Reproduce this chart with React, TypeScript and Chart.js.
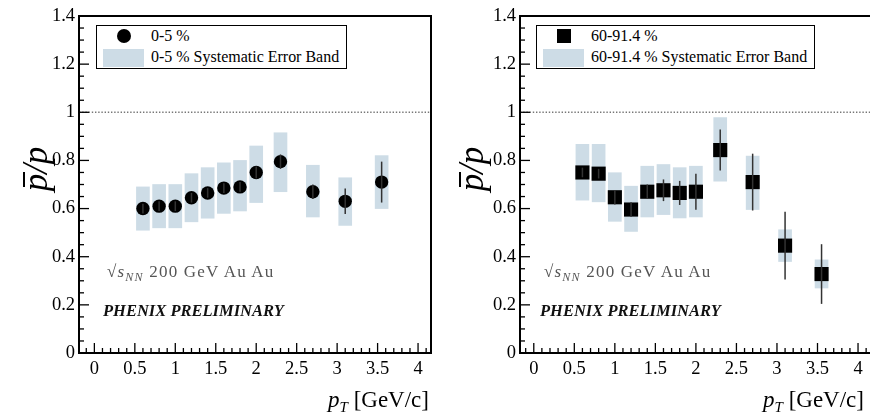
import React, { useEffect, useRef } from "react";
import { Chart, registerables } from "chart.js";

Chart.register(...registerables);

// ---- Data ----
const ptCentral = [0.6, 0.8, 1.0, 1.2, 1.4, 1.6, 1.8, 2.0, 2.3, 2.7, 3.1, 3.55];
const ratioCentral = [0.6, 0.61, 0.61, 0.645, 0.665, 0.685, 0.69, 0.75, 0.795, 0.67, 0.63, 0.71];
const statCentral = [0.02, 0.02, 0.02, 0.02, 0.02, 0.02, 0.02, 0.025, 0.03, 0.03, 0.053, 0.085];
const sysLowCentral = [0.51, 0.52, 0.52, 0.545, 0.56, 0.58, 0.59, 0.625, 0.67, 0.565, 0.53, 0.6];
const sysHighCentral = [0.69, 0.7, 0.7, 0.745, 0.77, 0.79, 0.8, 0.86, 0.915, 0.78, 0.728, 0.82];

const ptPeripheral = [0.6, 0.8, 1.0, 1.2, 1.4, 1.6, 1.8, 2.0, 2.3, 2.7, 3.1, 3.55];
const ratioPeripheral = [0.75, 0.745, 0.647, 0.596, 0.67, 0.676, 0.665, 0.67, 0.843, 0.71, 0.446, 0.328];
const statPeripheral = [0.02, 0.02, 0.03, 0.03, 0.03, 0.045, 0.05, 0.075, 0.085, 0.118, 0.141, 0.124];
const sysLowPeripheral = [0.635, 0.628, 0.547, 0.505, 0.565, 0.575, 0.561, 0.565, 0.714, 0.596, 0.38, 0.27];
const sysHighPeripheral = [0.867, 0.867, 0.749, 0.693, 0.776, 0.783, 0.77, 0.776, 0.978, 0.818, 0.512, 0.387];

const xTickValues = [0, 0.5, 1, 1.5, 2, 2.5, 3, 3.5, 4];
const xTickLabels = ["0", "0.5", "1", "1.5", "2", "2.5", "3", "3.5", "4"];
const yTickValues = [0, 0.2, 0.4, 0.6, 0.8, 1, 1.2, 1.4];
const yTickLabels = ["0", "0.2", "0.4", "0.6", "0.8", "1", "1.2", "1.4"];
const xMinorStep = 0.1;
const yMinorStep = 0.05;
const referenceLevel = 1;

const centralLabel = "0-5 %";
const centralBandLabel = "0-5 % Systematic Error Band";
const peripheralLabel = "60-91.4 %";
const peripheralBandLabel = "60-91.4 % Systematic Error Band";

const SERIF = "'Liberation Serif', 'DejaVu Serif', serif";
const BAND = "#cddce6";

type PanelData = {
  x: number[];
  y: number[];
  stat: number[];
  lo: number[];
  hi: number[];
  style: "circle" | "rect";
  radius: number;
  xMin: number;
  xMax: number;
  yAxisWidth: number;
  rightPad: number;
};

function buildChart(canvas: HTMLCanvasElement, p: PanelData) {
  const plugin = {
    id: "rootStyle",
    beforeDatasetsDraw(chart: any) {
      const { ctx, chartArea } = chart;
      const ys = chart.scales.y;
      const py = ys.getPixelForValue(referenceLevel);
      ctx.save();
      ctx.strokeStyle = "#777";
      ctx.lineWidth = 1.6;
      ctx.setLineDash([1.4, 1.8]);
      ctx.beginPath();
      ctx.moveTo(chartArea.left, py);
      ctx.lineTo(chartArea.right, py);
      ctx.stroke();
      ctx.restore();
    },
    afterDatasetsDraw(chart: any) {
      const { ctx } = chart;
      const xs = chart.scales.x;
      const ys = chart.scales.y;
      ctx.save();
      ctx.strokeStyle = "#333";
      ctx.lineWidth = 1.5;
      p.x.forEach((xv, i) => {
        const px = xs.getPixelForValue(xv);
        ctx.beginPath();
        ctx.moveTo(px, ys.getPixelForValue(p.y[i] - p.stat[i]));
        ctx.lineTo(px, ys.getPixelForValue(p.y[i] + p.stat[i]));
        ctx.stroke();
      });
      ctx.restore();
    },
    afterDraw(chart: any) {
      const { ctx, chartArea } = chart;
      const xs = chart.scales.x;
      const ys = chart.scales.y;
      ctx.save();
      ctx.strokeStyle = "#000";
      ctx.lineWidth = 2;
      ctx.strokeRect(chartArea.left, chartArea.top, chartArea.right - chartArea.left, chartArea.bottom - chartArea.top);
      ctx.lineWidth = 1.3;
      const nx0 = Math.ceil(p.xMin / xMinorStep);
      const nx1 = Math.floor(p.xMax / xMinorStep);
      for (let k = nx0; k <= nx1; k++) {
        const v = k * xMinorStep;
        const major = Math.abs(v / 0.5 - Math.round(v / 0.5)) < 1e-6;
        const px = xs.getPixelForValue(v);
        ctx.beginPath();
        ctx.moveTo(px, chartArea.bottom);
        ctx.lineTo(px, chartArea.bottom - (major ? 10 : 5));
        ctx.stroke();
      }
      for (let k = 0; k <= Math.round(1.4 / yMinorStep); k++) {
        const v = k * yMinorStep;
        const major = Math.abs(v / 0.2 - Math.round(v / 0.2)) < 1e-6;
        const py = ys.getPixelForValue(v);
        ctx.beginPath();
        ctx.moveTo(chartArea.left, py);
        ctx.lineTo(chartArea.left + (major ? 10 : 5), py);
        ctx.stroke();
      }
      ctx.restore();
    },
  };

  return new Chart(canvas, {
    type: "bar",
    data: {
      datasets: [
        {
          type: "scatter",
          data: p.x.map((x, i) => ({ x, y: p.y[i] })),
          pointStyle: p.style,
          pointRadius: p.radius,
          pointHoverRadius: p.radius,
          backgroundColor: "#000",
          borderColor: "#000",
          borderWidth: 0,
          order: 0,
        } as any,
        {
          type: "bar",
          data: p.x.map((x, i) => ({ x, y: [p.lo[i], p.hi[i]] })),
          backgroundColor: BAND,
          borderWidth: 0,
          barThickness: 13,
          order: 1,
        } as any,
      ],
    },
    options: {
      responsive: false,
      animation: false,
      devicePixelRatio: 1,
      layout: { padding: { top: 16, right: p.rightPad, left: 0, bottom: 0 } },
      plugins: { legend: { display: false }, tooltip: { enabled: false } },
      events: [],
      scales: {
        x: {
          type: "linear",
          min: p.xMin,
          max: p.xMax,
          offset: false,
          grid: { display: false, drawTicks: false },
          border: { display: false },
          afterBuildTicks: (s: any) => {
            s.ticks = xTickValues.map((v) => ({ value: v }));
          },
          afterFit: (s: any) => {
            s.height = 64;
          },
          ticks: {
            autoSkip: false,
            maxRotation: 0,
            padding: 5,
            color: "#000",
            font: { family: SERIF, size: 18.5 },
            callback: (v: any) => {
              const i = xTickValues.findIndex((t) => Math.abs(t - v) < 1e-6);
              return i >= 0 ? xTickLabels[i] : "";
            },
          },
        },
        y: {
          type: "linear",
          min: 0,
          max: 1.4,
          grid: { display: false, drawTicks: false },
          border: { display: false },
          afterBuildTicks: (s: any) => {
            s.ticks = yTickValues.map((v) => ({ value: v }));
          },
          afterFit: (s: any) => {
            s.width = p.yAxisWidth;
          },
          ticks: {
            autoSkip: false,
            padding: 4,
            color: "#000",
            font: { family: SERIF, size: 18.5 },
            callback: (v: any) => {
              const i = yTickValues.findIndex((t) => Math.abs(t - v) < 1e-6);
              return i >= 0 ? yTickLabels[i] : "";
            },
          },
        },
      },
    } as any,
    plugins: [plugin as any],
  });
}

function Overbar({ size }: { size: number }) {
  return (
    <span style={{ position: "relative", display: "inline-block" }}>
      p
      <span
        style={{
          position: "absolute",
          left: size * 0.12,
          right: -size * 0.05,
          top: size * 0.27,
          height: 1.8,
          background: "#000",
        }}
      />
    </span>
  );
}

function YTitle({ cx, cy }: { cx: number; cy: number }) {
  const size = 35;
  return (
    <div
      style={{
        position: "absolute",
        left: cx - 45,
        top: cy - 22,
        width: 90,
        height: 44,
        lineHeight: "44px",
        textAlign: "center",
        transform: "rotate(-90deg)",
        fontFamily: SERIF,
        fontStyle: "italic",
        fontSize: size,
        color: "#000",
        whiteSpace: "nowrap",
      }}
    >
      <Overbar size={size} />/p
    </div>
  );
}

function XTitle({ right, cy }: { right: number; cy: number }) {
  return (
    <div
      style={{
        position: "absolute",
        right: 870 - right,
        top: cy - 14,
        height: 28,
        lineHeight: "28px",
        fontFamily: SERIF,
        fontSize: 23,
        color: "#000",
        whiteSpace: "nowrap",
      }}
    >
      <i>p</i>
      <sub style={{ fontSize: 15, fontStyle: "italic", verticalAlign: "-5px" }}>T</sub> [GeV/c]
    </div>
  );
}

function Legend({
  left,
  width,
  marker,
  label,
  bandLabel,
}: {
  left: number;
  width: number;
  marker: "circle" | "rect";
  label: string;
  bandLabel: string;
}) {
  const textStyle: React.CSSProperties = {
    position: "absolute",
    left: 54,
    lineHeight: "20px",
    whiteSpace: "nowrap",
    transform: "scaleX(0.94)",
    transformOrigin: "left center",
  };
  return (
    <div
      style={{
        position: "absolute",
        left,
        top: 25,
        width,
        height: 44,
        boxSizing: "border-box",
        border: "1.5px solid #000",
        background: "#fff",
        fontFamily: SERIF,
        fontSize: 17,
        color: "#000",
      }}
    >
      <div
        style={{
          position: "absolute",
          left: 20,
          top: 3,
          width: 14,
          height: 14,
          background: "#000",
          borderRadius: marker === "circle" ? "50%" : 0,
        }}
      />
      <div style={{ position: "absolute", left: 6, top: 23, width: 41, height: 18, background: BAND }} />
      <div style={{ ...textStyle, top: 0 }}>{label}</div>
      <div style={{ ...textStyle, top: 21 }}>{bandLabel}</div>
    </div>
  );
}

function Annotation({ left }: { left: number }) {
  return (
    <>
      <div
        style={{
          position: "absolute",
          left,
          top: 261,
          lineHeight: "22px",
          fontFamily: SERIF,
          fontSize: 17,
          letterSpacing: 1.2,
          color: "#555",
          whiteSpace: "nowrap",
        }}
      >
        <span style={{ fontStyle: "italic" }}>
          √s<sub style={{ fontSize: 12 }}>NN</sub>
        </span>
        {"   200 GeV Au  Au"}
      </div>
      <div
        style={{
          position: "absolute",
          left: left - 4,
          top: 300,
          lineHeight: "22px",
          fontFamily: SERIF,
          fontSize: 16.5,
          fontWeight: "bold",
          fontStyle: "italic",
          color: "#111",
          whiteSpace: "nowrap",
        }}
      >
        PHENIX PRELIMINARY
      </div>
    </>
  );
}

export default function App() {
  const leftRef = useRef<HTMLCanvasElement>(null);
  const rightRef = useRef<HTMLCanvasElement>(null);

  useEffect(() => {
    const c1 = buildChart(leftRef.current!, {
      x: ptCentral,
      y: ratioCentral,
      stat: statCentral,
      lo: sysLowCentral,
      hi: sysHighCentral,
      style: "circle",
      radius: 6.7,
      xMin: -0.19,
      xMax: 4.16,
      yAxisWidth: 79,
      rightPad: 14,
    });
    const c2 = buildChart(rightRef.current!, {
      x: ptPeripheral,
      y: ratioPeripheral,
      stat: statPeripheral,
      lo: sysLowPeripheral,
      hi: sysHighPeripheral,
      style: "rect",
      radius: 10,
      xMin: -0.17,
      xMax: 4.16,
      yAxisWidth: 75,
      rightPad: 14,
    });
    return () => {
      c1.destroy();
      c2.destroy();
    };
  }, []);

  return (
    <div
      style={{
        position: "absolute",
        left: 0,
        top: 0,
        width: 870,
        height: 417,
        overflow: "hidden",
        background: "#fff",
      }}
    >
      <canvas ref={leftRef} width={445} height={417} style={{ position: "absolute", left: 0, top: 0 }} />
      <canvas ref={rightRef} width={440} height={417} style={{ position: "absolute", left: 445, top: 0 }} />
      <YTitle cx={36} cy={169} />
      <YTitle cx={472} cy={169} />
      <XTitle right={429} cy={400} />
      <XTitle right={864} cy={400} />
      <Legend left={96} width={251} marker="circle" label={centralLabel} bandLabel={centralBandLabel} />
      <Legend left={536} width={279} marker="rect" label={peripheralLabel} bandLabel={peripheralBandLabel} />
      <Annotation left={107} />
      <Annotation left={544} />
    </div>
  );
}
